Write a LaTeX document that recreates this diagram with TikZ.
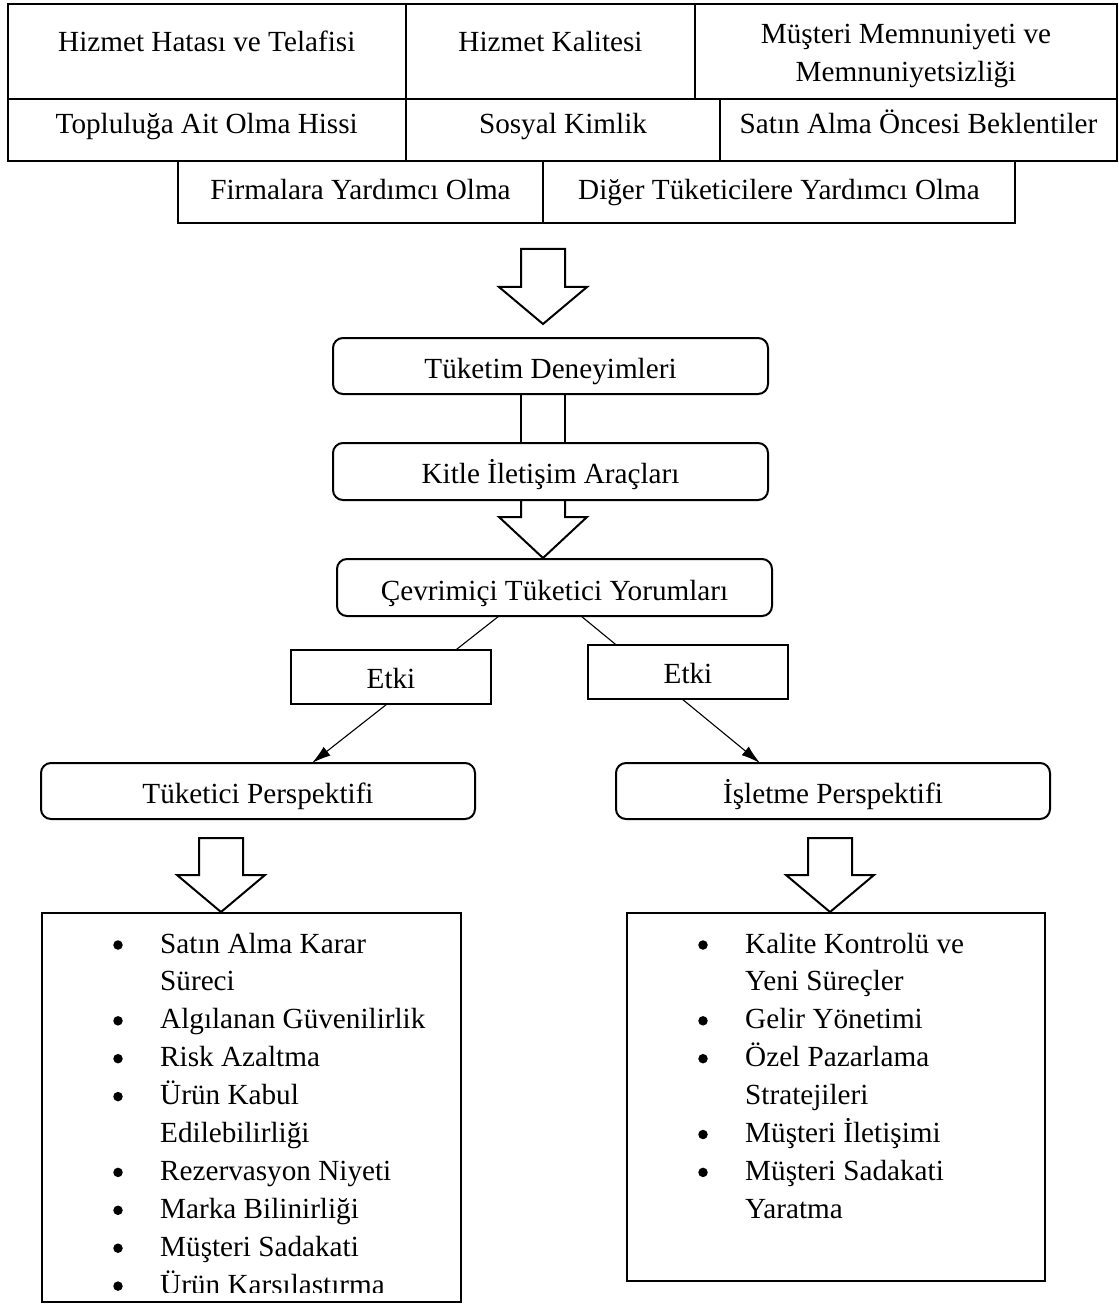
\documentclass[tikz,border=0pt]{standalone}
\usepackage{fontspec}
\setmainfont{Liberation Serif}
\usetikzlibrary{arrows.meta,calc}

\tikzset{
  cell/.style={draw, line width=2pt, inner sep=0pt, outer sep=0pt, anchor=north west},
  roundbox/.style={draw, line width=2pt, rounded corners=10pt, inner sep=0pt, outer sep=0pt, anchor=north west},
  etkibox/.style={draw, line width=2pt, fill=white, inner sep=0pt, outer sep=0pt, anchor=north west},
  listbox/.style={draw, line width=2pt, inner sep=0pt, outer sep=0pt, anchor=north west},
  blockarrow/.style={draw, line width=2pt, fill=white, line join=miter},
  link/.style={line width=1.1pt, -{Latex[length=19pt,width=11pt]}},
  boxtext/.style={anchor=base, inner sep=0pt, align=center},
  itemtext/.style={anchor=base west, inner sep=0pt},
  bulletdot/.style={circle, fill=black, inner sep=0pt, minimum size=9.5pt},
}

% a box given by its corners (x1,y1) and (x2,y2); its (last) text line sits on baseline #7
\newcommand{\boxat}[8]{%
  \pgfmathsetmacro\boxw{#5-#3}%
  \pgfmathsetmacro\boxh{#6-#4}%
  \pgfmathsetmacro\boxmid{(#3+#5)/2}%
  \node[#1, minimum width=\boxw pt, minimum height=\boxh pt] (#2) at (#3,#4) {};
  \node[boxtext] (#2-text) at (\boxmid,#7) {#8};
}

% a hollow down arrow whose tip sits at (#1,#2)
\newcommand{\hollowarrow}[4]{%
  \draw[blockarrow] (#1,#2) -- ++(44,-#3) -- ++(-22,0) -- ++(0,-#4) -- ++(-44,0) -- ++(0,#4) -- ++(-22,0) -- cycle;
}

\begin{document}
\begin{tikzpicture}[x=1pt, y=-1pt, font=\fontsize{29.2}{38.3}\selectfont]
\useasboundingbox (0,0) rectangle (1118,1305);

% top grid of themes
\boxat{cell}{c11}{7.5}{4.5}{406}{99.5}{51.7}{Hizmet Hatası ve Telafisi}
\boxat{cell}{c12}{406}{4.5}{695}{99.5}{51.7}{Hizmet Kalitesi}
\boxat{cell}{c13}{695}{4.5}{1117}{99.5}{81.7}{Müşteri Memnuniyeti ve\\Memnuniyetsizliği}
\boxat{cell}{c21}{7.5}{99.5}{406}{161}{133.3}{Topluluğa Ait Olma Hissi}
\boxat{cell}{c22}{406}{99.5}{720}{161}{133.3}{Sosyal Kimlik}
\boxat{cell}{c23}{720}{99.5}{1117}{161}{133.3}{Satın Alma Öncesi Beklentiler}
\boxat{cell}{c31}{178}{161}{543}{223}{200}{Firmalara Yardımcı Olma}
\boxat{cell}{c32}{543}{161}{1015}{223}{200}{Diğer Tüketicilere Yardımcı Olma}

% central chain
\boxat{roundbox}{ted}{333}{338}{768}{394}{378}{Tüketim Deneyimleri}
\boxat{roundbox}{kit}{333}{443}{768}{500}{483}{Kitle İletişim Araçları}
\boxat{roundbox}{cev}{337}{559}{772}{616}{600}{Çevrimiçi Tüketici Yorumları}

\hollowarrow{543}{324}{37}{38}
\draw[line width=2pt] (521,394) -- (521,443) (565,394) -- (565,443);
\hollowarrow{543}{558}{41}{17}

% perspectives
\boxat{roundbox}{tp}{41}{763}{475}{819}{803}{Tüketici Perspektifi}
\boxat{roundbox}{ip}{616}{763}{1050}{819}{803}{İşletme Perspektifi}

\coordinate (cl) at (499,616);
\coordinate (cr) at (581,616);
\coordinate (tl) at (312,763);
\coordinate (tr) at (760,763);
\draw[link] (cl) -- (tl);
\draw[link] (cr) -- (tr);

\boxat{etkibox}{e1}{291}{650}{491}{704}{688.3}{Etki}
\boxat{etkibox}{e2}{588}{645}{788}{699}{683.3}{Etki}

\hollowarrow{221}{912}{37}{37}
\hollowarrow{830}{912}{37}{37}

% outcome lists
\node[listbox, minimum width=419pt, minimum height=389pt] (lt) at (42,913) {};
\node[listbox, minimum width=418pt, minimum height=368pt] (lr) at (627,913) {};

\begin{scope}
  \clip (42,913) rectangle (461,1292.5);
  \foreach \b/\t [count=\i from 0] in {1/Satın Alma Karar, 0/Süreci, 1/Algılanan Güvenilirlik,
      1/Risk Azaltma, 1/Ürün Kabul, 0/Edilebilirliği, 1/Rezervasyon Niyeti,
      1/Marka Bilinirliği, 1/Müşteri Sadakati, 1/Ürün Karşılaştırma} {
    \node[itemtext] at (160,953+37.9*\i) {\t};
    \ifnum\b=1 \node[bulletdot] at (118,945+37.9*\i) {}; \fi
  }
\end{scope}

\foreach \b/\t [count=\i from 0] in {1/Kalite Kontrolü ve, 0/Yeni Süreçler, 1/Gelir Yönetimi,
    1/Özel Pazarlama, 0/Stratejileri, 1/Müşteri İletişimi, 1/Müşteri Sadakati, 0/Yaratma} {
  \node[itemtext] at (745,953+37.9*\i) {\t};
  \ifnum\b=1 \node[bulletdot] at (703,945+37.9*\i) {}; \fi
}
\end{tikzpicture}
\end{document}
